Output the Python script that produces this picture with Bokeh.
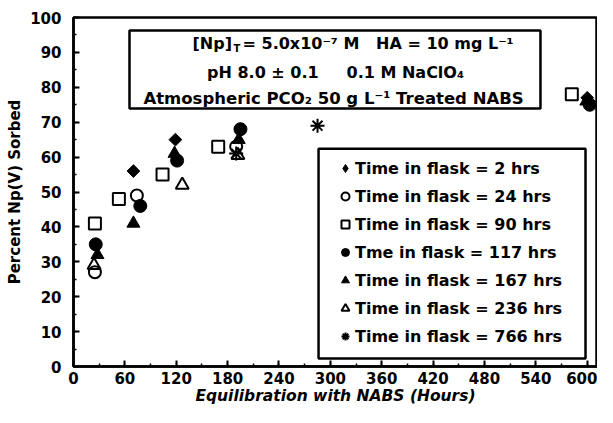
import math
from bokeh.plotting import figure
from bokeh.models import (BoxAnnotation, Label, Legend, LegendItem,
                          SingleIntervalTicker, Range1d)
from bokeh.embed import file_html
from bokeh.resources import INLINE

# ---- data (equilibration time in hours, percent sorbed) ----
labels = ["Time in flask = 2 hrs", "Time in flask = 24 hrs",
          "Time in flask = 90 hrs", "Tme in flask = 117 hrs",
          "Time in flask = 167 hrs", "Time in flask = 236 hrs",
          "Time in flask = 766 hrs"]

x_2 = [70, 119, 600]
y_2 = [56, 65, 77]
x_24 = [25, 74, 190]
y_24 = [27, 49, 63]
x_90 = [25, 53, 104, 169, 582]
y_90 = [41, 48, 55, 63, 78]
x_117 = [26, 78, 121, 195, 603]
y_117 = [35, 46, 59, 68, 75]
x_167 = [28, 70, 118, 193, 599]
y_167 = [32, 41, 61, 65, 76]
x_236 = [24, 127, 192]
y_236 = [29, 52, 60.5]
x_766 = [190, 285]
y_766 = [61, 69]

x_ticks_interval = 60
y_ticks_interval = 10

FONT = "DejaVu Sans"

p = figure(width=597, height=407, x_range=Range1d(0, 612), y_range=Range1d(0, 100),
           output_backend="svg", toolbar_location=None,
           min_border_left=73, min_border_right=0, min_border_top=17,
           min_border_bottom=0)
p.xgrid.visible = False
p.ygrid.visible = False
p.outline_line_color = "black"
p.outline_line_width = 2.5
p.background_fill_color = "white"
p.border_fill_color = "white"

p.xaxis.ticker = SingleIntervalTicker(interval=x_ticks_interval, num_minor_ticks=2)
p.yaxis.ticker = SingleIntervalTicker(interval=y_ticks_interval, num_minor_ticks=2)

for ax in (p.xaxis, p.yaxis):
    ax.axis_line_width = 2.5
    ax.axis_line_color = "black"
    ax.major_tick_line_width = 2
    ax.major_tick_in = 6
    ax.major_tick_out = 0
    ax.minor_tick_line_width = 1.5
    ax.minor_tick_in = 3
    ax.minor_tick_out = 0
    ax.major_label_text_font = FONT
    ax.major_label_text_font_style = "bold"
    ax.major_label_text_font_size = "15px"
    ax.major_label_text_color = "black"
    ax.axis_label_text_font = FONT
    ax.axis_label_text_color = "black"

p.yaxis.major_label_standoff = 12
p.xaxis.major_label_standoff = 5
p.yaxis.axis_label = "Percent Np(V) Sorbed"
p.yaxis.axis_label_text_font_style = "bold"
p.yaxis.axis_label_text_font_size = "15px"
p.yaxis.axis_label_standoff = 3
p.xaxis.axis_label = "Equilibration with NABS (Hours)"
p.xaxis.axis_label_text_font_style = "bold italic"
p.xaxis.axis_label_text_font_size = "15.5px"
p.xaxis.axis_label_standoff = 0

r2 = p.scatter(x_2, y_2, marker="square", size=9, angle=math.pi / 4,
               fill_color="black", line_color="black")
r24 = p.scatter(x_24, y_24, marker="circle", size=12, fill_alpha=0,
                line_color="black", line_width=2)
r90 = p.scatter(x_90, y_90, marker="square", size=12, fill_alpha=0,
                line_color="black", line_width=2)
r117 = p.scatter(x_117, y_117, marker="circle", size=13,
                 fill_color="black", line_color="black")
r167 = p.scatter(x_167, y_167, marker="triangle", size=13,
                 fill_color="black", line_color="black")
r236 = p.scatter(x_236, y_236, marker="triangle", size=13, fill_alpha=0,
                 line_color="black", line_width=2)
r766 = p.scatter(x_766, y_766, marker="asterisk", size=14,
                 line_color="black", line_width=2)
# legend-only proxy (no visible point) so the legend shows a diamond
r2_leg = p.scatter([float("nan")], [float("nan")], marker="diamond", size=12,
                   fill_color="black", line_color="black")
renderers = [r2_leg, r24, r90, r117, r167, r236, r766]

# annotation box
p.add_layout(BoxAnnotation(left=65.4, right=545.4, bottom=73.9, top=96.3,
                           fill_color="white", fill_alpha=1,
                           line_color="black", line_width=2.5, line_alpha=1))
# legend frame
p.add_layout(BoxAnnotation(left=286.2, right=598.0, bottom=2.3, top=62.4,
                           fill_color="white", fill_alpha=1,
                           line_color="black", line_width=2.5, line_alpha=1))

def lab(x, y, t, size="16px", align="left"):
    p.add_layout(Label(x=x, y=y, text=t, text_font=FONT, text_font_style="bold",
                       text_font_size=size, text_align=align,
                       text_baseline="middle", text_color="black"))

lab(139.0, 92.5, "[Np]")
lab(186.9, 91.0, "T", size="10px")
lab(197.4, 92.5, "= 5.0x10\u207b\u2077 M\u00a0\u00a0\u00a0HA = 10 mg L\u207b\u00b9")
lab(306.0, 84.2, "pH 8.0 \u00b1 0.1\u00a0\u00a0\u00a0\u00a0 0.1 M NaClO\u2084", align="center")
lab(303.7, 76.7, "Atmospheric PCO\u2082 50 g L\u207b\u00b9 Treated NABS", size="16.5px", align="center")

legend = Legend(items=[LegendItem(label=l, renderers=[r]) for l, r in zip(labels, renderers)],
                location=(257, 11), border_line_alpha=0, background_fill_alpha=0,
                padding=5, spacing=0, label_height=28, glyph_height=28, glyph_width=20,
                label_standoff=0, margin=0,
                label_text_font=FONT, label_text_font_style="bold",
                label_text_font_size="16px", label_text_color="black")
p.add_layout(legend)

open("out.html", "w").write(file_html(p, INLINE))
